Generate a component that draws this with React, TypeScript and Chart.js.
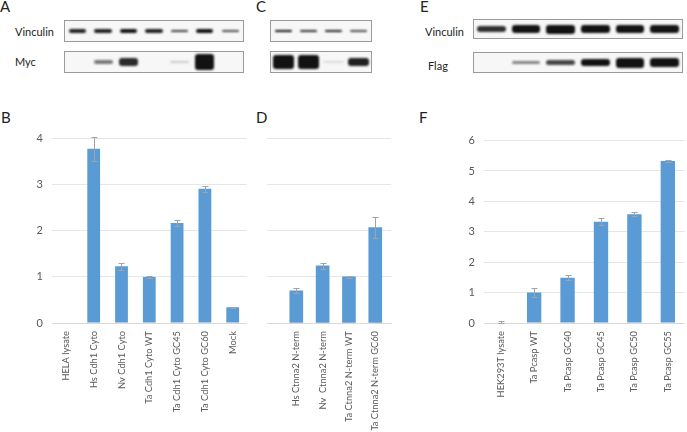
import React, { useEffect, useRef } from 'react';
import { Chart, registerables } from 'chart.js';

Chart.register(...registerables);

// ---------- Data ----------
const bCategories = ['HELA lysate', 'Hs Cdh1 Cyto', 'Nv Cdh1 Cyto', 'Ta Cdh1 Cyto WT', 'Ta Cdh1 Cyto GC45', 'Ta Cdh1 Cyto GC60', 'Mock'];
const bValues = [0, 3.78, 1.23, 1.0, 2.17, 2.91, 0.34];
const bErrors = [0, 0.26, 0.07, 0.03, 0.06, 0.07, 0.01];

const dCategories = ['Hs Ctnna2 N-term', 'Nv  Ctnna2 N-term', 'Ta Ctnna2 N-term WT', 'Ta Ctnna2 N-term GC60'];
const dValues = [0.70, 1.24, 1.0, 2.07];
const dErrors = [0.05, 0.06, 0.03, 0.23];

const fCategories = ['HEK293T lysate', 'Ta Pcasp WT', 'Ta Pcasp GC40', 'Ta Pcasp GC45', 'Ta Pcasp GC50', 'Ta Pcasp GC55'];
const fValues = [0.02, 1.0, 1.49, 3.33, 3.58, 5.33];
const fErrors = [0.04, 0.15, 0.09, 0.11, 0.07, 0.03];

const bdTicks = [0, 1, 2, 3, 4];
const fTicks = [0, 1, 2, 3, 4, 5, 6];

// Blot signal intensities per lane (0..1)
const aVinculin = [0.75, 0.75, 0.95, 0.75, 0.65, 0.8, 0.6];
const aMyc = [0, 0.45, 0.72, 0, 0.15, 1.0, 0];
const cVinculin = [0.8, 0.7, 0.75, 0.6];
const cMyc = [0.95, 0.95, 0.1, 0.75];
const eVinculin = [0.7, 0.93, 1.0, 0.93, 0.93, 0.93];
const eFlag = [0, 0.4, 0.62, 0.85, 1.0, 0.95];

// ---------- Error bar plugin ----------
const errorBarPlugin = {
  id: 'errorBars',
  afterDatasetsDraw(chart: any, _args: any, opts: any) {
    if (!opts || !opts.errors) return;
    const meta = chart.getDatasetMeta(0);
    const yScale = chart.scales.y;
    const ctx = chart.ctx;
    ctx.save();
    ctx.strokeStyle = opts.color || '#a0a0a0';
    ctx.lineWidth = 1;
    meta.data.forEach((bar: any, i: number) => {
      const e = opts.errors[i];
      const v = opts.values[i];
      if (!e) return;
      const x = Math.round(bar.x) + 0.5;
      const yTop = Math.round(yScale.getPixelForValue(v + e)) + 0.5;
      const yBot = Math.round(yScale.getPixelForValue(Math.max(0, v - e))) + 0.5;
      const cap = 3;
      ctx.beginPath();
      ctx.moveTo(x, yTop);
      ctx.lineTo(x, yBot);
      ctx.moveTo(x - cap, yTop);
      ctx.lineTo(x + cap, yTop);
      ctx.moveTo(x - cap, yBot);
      ctx.lineTo(x + cap, yBot);
      ctx.stroke();
    });
    ctx.restore();
  },
};

const FONT = 'Lato, "Liberation Sans", sans-serif';
const TICK_COLOR = '#595959';

type PanelProps = {
  left: number;
  top: number;
  width: number;
  height: number;
  labels: string[];
  values: number[];
  errors: number[];
  yTicks: number[];
  showYLabels: boolean;
  yAxisWidth: number;
  padRight: number;
  xAxisHeight: number;
  barPercentage?: number;
  barThickness?: number;
  linearX?: { min: number; max: number };
};

function BarPanel(p: PanelProps) {
  const ref = useRef<HTMLCanvasElement | null>(null);
  useEffect(() => {
    if (!ref.current) return;
    const linear = !!p.linearX;
    const data = linear ? p.values.map((v, i) => ({ x: i, y: v })) : p.values;
    const xScale: any = {
      type: linear ? 'linear' : 'category',
      offset: !linear,
      grid: { display: false, drawTicks: false },
      border: { display: true, color: '#d9d9d9', width: 1 },
      ticks: {
        autoSkip: false,
        minRotation: 90,
        maxRotation: 90,
        padding: 8,
        color: TICK_COLOR,
        font: { family: FONT, size: 9.3 },
      },
      afterFit: (s: any) => {
        s.height = p.xAxisHeight;
      },
    };
    if (linear) {
      xScale.min = p.linearX!.min;
      xScale.max = p.linearX!.max;
      xScale.ticks.stepSize = 1;
      xScale.ticks.includeBounds = false;
      xScale.ticks.callback = (v: number) => (Number.isInteger(v) && p.labels[v] !== undefined ? p.labels[v] : '');
    }
    const chart = new Chart(ref.current, {
      type: 'bar',
      data: {
        labels: linear ? undefined : p.labels,
        datasets: [
          {
            data: data as any,
            backgroundColor: '#5B9BD5',
            borderWidth: 0,
            categoryPercentage: 1,
            barPercentage: p.barPercentage ?? 0.5,
            barThickness: p.barThickness,
          } as any,
        ],
      },
      options: {
        responsive: false,
        animation: false,
        devicePixelRatio: 1,
        layout: { padding: { top: 0, right: p.padRight, left: 0, bottom: 0 } },
        plugins: {
          legend: { display: false },
          tooltip: { enabled: false },
          errorBars: { values: p.values, errors: p.errors, color: '#a3a3a3' },
        } as any,
        scales: {
          x: xScale,
          y: {
            min: p.yTicks[0],
            max: p.yTicks[p.yTicks.length - 1],
            grid: { color: '#e6e6e6', drawTicks: false, lineWidth: 1 },
            border: { display: false },
            ticks: {
              display: true,
              padding: 9,
              color: p.showYLabels ? TICK_COLOR : 'rgba(0,0,0,0)',
              font: { family: FONT, size: 11 },
            },
            afterBuildTicks: (s: any) => {
              s.ticks = p.yTicks.map((v) => ({ value: v }));
            },
            afterFit: (s: any) => {
              s.width = p.yAxisWidth;
            },
          } as any,
        },
      },
      plugins: [errorBarPlugin as any],
    });
    return () => chart.destroy();
  }, []);
  return (
    <canvas
      ref={ref}
      width={p.width}
      height={p.height}
      style={{ position: 'absolute', left: p.left, top: p.top, width: p.width, height: p.height }}
    />
  );
}

type BlotProps = {
  left: number;
  top: number;
  width: number;
  height: number;
  bands: number[];
  bandWidth: number;
  minT: number;
  rangeT: number;
  power: number;
};

function Blot(b: BlotProps) {
  return (
    <div
      style={{
        position: 'absolute',
        left: b.left,
        top: b.top,
        width: b.width,
        height: b.height,
        border: '1px solid #9a9a9a',
        background: '#f7f7f7',
        boxSizing: 'border-box',
        display: 'flex',
        alignItems: 'center',
        overflow: 'hidden',
      }}
    >
      {b.bands.map((v, i) => (
        <div key={i} style={{ flex: 1, height: '100%', display: 'flex', justifyContent: 'center', alignItems: 'center' }}>
          {v > 0 && (
            <div
              style={{
                width: `${b.bandWidth * 100}%`,
                height: b.minT + Math.pow(v, b.power) * b.rangeT,
                background: `rgba(18,18,18,${Math.min(1, v * 1.25)})`,
                borderRadius: 3,
                filter: 'blur(0.8px)',
              }}
            />
          )}
        </div>
      ))}
    </div>
  );
}

function Text({ left, top, children, size = 11 }: { left: number; top: number; children: React.ReactNode; size?: number }) {
  return (
    <div
      style={{
        position: 'absolute',
        left,
        top,
        fontFamily: FONT,
        fontSize: size,
        lineHeight: `${size}px`,
        color: '#222',
        whiteSpace: 'pre',
      }}
    >
      {children}
    </div>
  );
}

export default function App() {
  return (
    <div style={{ position: 'fixed', left: 0, top: 0, width: 687, height: 432, background: '#fff', overflow: 'hidden' }}>
      {/* Panel letters */}
      <Text left={0} top={-1} size={15}>A</Text>
      <Text left={256} top={-1} size={15}>C</Text>
      <Text left={420} top={-1} size={15}>E</Text>
      <Text left={1} top={110} size={15}>B</Text>
      <Text left={256} top={110} size={15}>D</Text>
      <Text left={419} top={110} size={15}>F</Text>

      {/* Blot labels */}
      <Text left={15} top={26}>Vinculin</Text>
      <Text left={15} top={56}>Myc</Text>
      <Text left={425} top={26}>Vinculin</Text>
      <Text left={428} top={60}>Flag</Text>

      {/* Blots */}
      <Blot left={64} top={20} width={180} height={22} bands={aVinculin} bandWidth={0.68} minT={2} rangeT={2} power={2} />
      <Blot left={64} top={51} width={180} height={22} bands={aMyc} bandWidth={0.75} minT={2} rangeT={14} power={3} />
      <Blot left={270} top={20} width={102} height={22} bands={cVinculin} bandWidth={0.7} minT={2} rangeT={1.5} power={2} />
      <Blot left={270} top={51} width={102} height={22} bands={cMyc} bandWidth={0.85} minT={2} rangeT={13} power={3} />
      <Blot left={473} top={19} width={210} height={20} bands={eVinculin} bandWidth={0.82} minT={3} rangeT={6} power={2} />
      <Blot left={473} top={52} width={210} height={21} bands={eFlag} bandWidth={0.82} minT={1.5} rangeT={8.5} power={2} />

      {/* Bar charts */}
      <BarPanel
        left={0}
        top={123}
        width={252}
        height={309}
        labels={bCategories}
        values={bValues}
        errors={bErrors}
        yTicks={bdTicks}
        showYLabels={true}
        yAxisWidth={52}
        padRight={2}
        xAxisHeight={109}
        barPercentage={0.46}
      />
      <BarPanel
        left={262}
        top={123}
        width={132}
        height={309}
        labels={dCategories}
        values={dValues}
        errors={dErrors}
        yTicks={bdTicks}
        showYLabels={false}
        yAxisWidth={0}
        padRight={2}
        xAxisHeight={109}
        barThickness={13}
        linearX={{ min: -1.1, max: 3.6 }}
      />
      <BarPanel
        left={460}
        top={125}
        width={227}
        height={307}
        labels={fCategories}
        values={fValues}
        errors={fErrors}
        yTicks={fTicks}
        showYLabels={true}
        yAxisWidth={24}
        padRight={0}
        xAxisHeight={109}
        barPercentage={0.43}
      />
    </div>
  );
}
